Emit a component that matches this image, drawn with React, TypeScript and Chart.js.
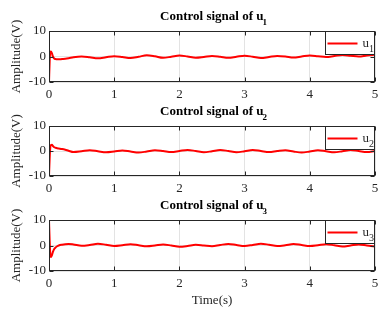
import { useEffect, useRef } from "react";
import { Chart, registerables } from "chart.js";

Chart.register(...registerables);

// time axis (s)
const TIME = [
  0, 0.01, 0.02, 0.03, 0.045, 0.06, 0.08, 0.1, 0.125, 0.15, 0.2, 0.25, 0.3, 0.375,
  0.5, 0.625, 0.75, 0.875, 1.0, 1.125, 1.25, 1.375, 1.5, 1.625, 1.75, 1.875,
  2.0, 2.125, 2.25, 2.375, 2.5, 2.625, 2.75, 2.875, 3.0, 3.125, 3.25, 3.375,
  3.5, 3.625, 3.75, 3.875, 4.0, 4.125, 4.25, 4.375, 4.5, 4.625, 4.75, 4.875, 5.0,
];

const U1 = [
  -10, -2, 1.8, 2.0, 1.2, 0, -0.8, -1.0, -1.1, -1.1, -1.0, -0.9, -0.7, -0.3,
  0.0, -0.3, -0.7, -0.3, 0.1, -0.2, -0.6, -0.1, 0.5, 0.1, -0.5, -0.1,
  0.4, 0.0, -0.5, -0.2, 0.2, -0.1, -0.5, -0.1, 0.3, -0.1, -0.6, -0.2,
  0.2, 0.0, -0.4, 0.0, 0.4, 0.1, -0.2, 0.2, 0.6, 0.3, 0.0, 0.4, 0.7,
];

const U2 = [
  -10, -3, 1.5, 2.4, 2.5, 2.0, 1.5, 1.3, 1.1, 1.0, 0.8, 0.5, 0.1, -0.4,
  -0.1, 0.3, -0.1, -0.5, -0.2, 0.2, -0.2, -0.6, -0.2, 0.3, 0.0, -0.4,
  0.0, 0.4, 0.0, -0.5, -0.1, 0.4, 0.0, -0.5, -0.1, 0.4, 0.0, -0.4,
  0.0, 0.3, -0.2, -0.6, -0.2, 0.3, -0.1, -0.5, -0.1, 0.4, 0.0, -0.4, 0.0,
];

const U3 = [
  10, 2, -3.5, -4.5, -3.8, -2.5, -1.4, -0.8, -0.3, 0.0, 0.3, 0.5, 0.6, 0.4,
  -0.1, 0.2, 0.7, 0.3, -0.2, 0.1, 0.5, 0.1, -0.3, 0.0, 0.4, 0.0,
  -0.5, -0.2, 0.3, 0.0, -0.3, 0.2, 0.6, 0.2, -0.2, 0.2, 0.7, 0.3,
  -0.2, 0.1, 0.6, 0.2, -0.2, 0.1, 0.5, 0.1, -0.4, 0.0, 0.4, 0.0, -0.4,
];

const X_TICKS = [0, 1, 2, 3, 4, 5];
const Y_TICKS = [-10, 0, 10];
const TITLE_TEXT = "Control signal of u";
const SUBSCRIPTS = ["1", "2", "3"];
const Y_LABEL = "Amplitude(V)";
const X_LABEL = "Time(s)";

const FONT = '"Liberation Serif", "Times New Roman", serif';
const INK = "#262626";

const PANELS = [
  { data: U1, top: 0, height: 105, padTop: 31, xh: 23, xTitle: false },
  { data: U2, top: 105, height: 95, padTop: 21, xh: 24, xTitle: false },
  { data: U3, top: 200, height: 116, padTop: 20, xh: 45, xTitle: true },
];

const decor = {
  id: "decor",
  afterDatasetsDraw(chart: any, _args: any, opts: any) {
    const { ctx, chartArea: a, scales } = chart;
    const x = scales.x;
    const y = scales.y;
    const L = Math.round(a.left) + 0.5;
    const R = Math.round(a.right) - 0.5;
    const T = Math.round(a.top) + 0.5;
    const B = Math.round(a.bottom) - 0.5;
    ctx.save();
    ctx.strokeStyle = INK;
    ctx.lineWidth = 1;
    // inward tick marks
    ctx.beginPath();
    X_TICKS.forEach((v) => {
      const px = Math.round(x.getPixelForValue(v)) + 0.5;
      ctx.moveTo(px, T);
      ctx.lineTo(px, T + 4);
      ctx.moveTo(px, B);
      ctx.lineTo(px, B - 4);
    });
    Y_TICKS.forEach((v) => {
      const py = Math.round(y.getPixelForValue(v)) + 0.5;
      ctx.moveTo(L, py);
      ctx.lineTo(L + 4, py);
      ctx.moveTo(R, py);
      ctx.lineTo(R - 4, py);
    });
    ctx.stroke();
    // axes box
    ctx.strokeRect(L, T, R - L, B - T);

    // title with subscript
    const sub = opts.sub as string;
    ctx.fillStyle = "#000";
    ctx.textBaseline = "alphabetic";
    ctx.font = `bold 13px ${FONT}`;
    const w1 = ctx.measureText(TITLE_TEXT).width;
    ctx.font = `bold 9px ${FONT}`;
    const w2 = ctx.measureText(sub).width;
    const cx = (a.left + a.right) / 2 + 2;
    const tx = cx - (w1 + w2) / 2;
    const base = a.top - 11;
    ctx.font = `bold 13px ${FONT}`;
    ctx.textAlign = "left";
    ctx.fillText(TITLE_TEXT, tx, base);
    ctx.font = `bold 9px ${FONT}`;
    ctx.fillText(sub, tx + w1 - 1, base + 5);

    // legend
    const bw = 49;
    const bh = 23;
    const bl = Math.round(a.right) - bw - 0.5;
    const bt = Math.round(a.top) + 0.5;
    ctx.fillStyle = "#fff";
    ctx.fillRect(bl, bt, bw, bh);
    ctx.strokeStyle = INK;
    ctx.strokeRect(bl, bt, bw, bh);
    ctx.strokeStyle = "#ff0000";
    ctx.lineWidth = 2;
    ctx.beginPath();
    ctx.moveTo(bl + 2, bt + 12);
    ctx.lineTo(bl + 32, bt + 12);
    ctx.stroke();
    ctx.fillStyle = INK;
    ctx.font = `13px ${FONT}`;
    ctx.fillText("u", bl + 37, bt + 15);
    const uw = ctx.measureText("u").width;
    ctx.font = `10px ${FONT}`;
    ctx.fillText(sub, bl + 37 + uw, bt + 20);
    ctx.restore();
  },
};

function Panel({ idx }: { idx: number }) {
  const ref = useRef<HTMLCanvasElement | null>(null);
  const p = PANELS[idx];
  useEffect(() => {
    if (!ref.current) return;
    const chart = new Chart(ref.current, {
      type: "line",
      data: {
        labels: TIME,
        datasets: [
          {
            label: "u" + SUBSCRIPTS[idx],
            data: TIME.map((t, i) => ({ x: t, y: p.data[i] })),
            borderColor: "#ff0000",
            borderWidth: 2,
            pointRadius: 0,
            fill: false,
            cubicInterpolationMode: "monotone",
          },
        ],
      },
      options: {
        animation: false,
        responsive: false,
        devicePixelRatio: 1,
        layout: { padding: { top: p.padTop, right: 17, left: 0, bottom: 0 } },
        plugins: {
          legend: { display: false },
          tooltip: { enabled: false },
          title: { display: false },
          decor: { sub: SUBSCRIPTS[idx] },
        } as any,
        scales: {
          x: {
            type: "linear",
            min: 0,
            max: 5,
            afterBuildTicks: (s: any) => {
              s.ticks = X_TICKS.map((v) => ({ value: v }));
            },
            afterFit: (s: any) => {
              s.height = p.xh;
            },
            ticks: {
              padding: 5,
              color: INK,
              font: { family: FONT, size: 13 },
              maxRotation: 0,
              autoSkip: false,
            },
            grid: { color: "#e3e3e3", drawTicks: false, lineWidth: 1 },
            border: { display: false },
            title: {
              display: p.xTitle,
              text: X_LABEL,
              color: INK,
              font: { family: FONT, size: 13 },
              padding: { top: 0, bottom: 8 },
            },
          },
          y: {
            type: "linear",
            min: -10,
            max: 10,
            afterBuildTicks: (s: any) => {
              s.ticks = Y_TICKS.map((v) => ({ value: v }));
            },
            afterFit: (s: any) => {
              s.width = 49;
            },
            ticks: {
              padding: 3,
              color: INK,
              font: { family: FONT, size: 13 },
            },
            grid: { color: "#e3e3e3", drawTicks: false, lineWidth: 1 },
            border: { display: false },
            title: {
              display: true,
              text: Y_LABEL,
              color: INK,
              font: { family: FONT, size: 13 },
              padding: { top: 9, bottom: 0 },
            },
          },
        },
      },
      plugins: [decor],
    } as any);
    return () => chart.destroy();
  }, [idx]);
  return (
    <canvas
      ref={ref}
      width={392}
      height={p.height}
      style={{ position: "absolute", left: 0, top: p.top, width: 392, height: p.height }}
    />
  );
}

export default function App() {
  return (
    <div
      style={{
        position: "fixed",
        left: 0,
        top: 0,
        width: 392,
        height: 316,
        background: "#fff",
        overflow: "hidden",
      }}
    >
      {PANELS.map((_, i) => (
        <Panel key={i} idx={i} />
      ))}
    </div>
  );
}
